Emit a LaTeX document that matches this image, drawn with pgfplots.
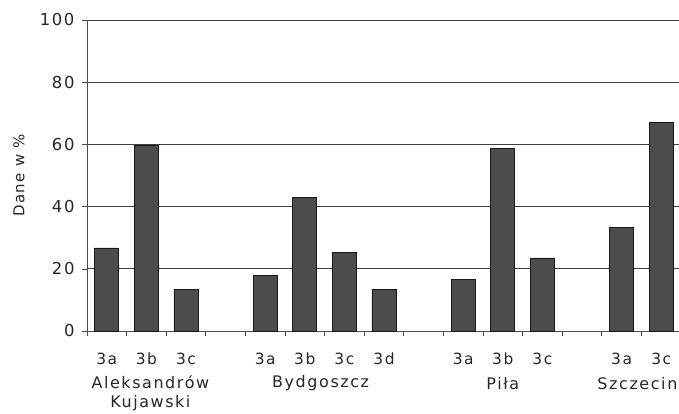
\documentclass[border=0pt]{standalone}
\usepackage{fontspec}
\setmainfont{DejaVu Sans}[LetterSpace=10]
\usepackage{pgfplots}
\pgfplotsset{compat=1.18}
\begin{document}
\begin{tikzpicture}
\useasboundingbox (-87bp,-83bp) rectangle (592bp,331bp);
\begin{axis}[
  at={(0,0)}, anchor=south west,
  scale only axis, width=592bp, height=311bp,
  xmin=-0.5, xmax=14.45, ymin=0, ymax=100,
  axis x line=bottom, axis y line=left,
  axis line style={black!70, -},
  ytick={0,20,...,100},
  ymajorgrids, grid style={black!75, line width=0.7pt},
  xtick={0,1,2,4,5,6,7,9,10,11,13,14},
  xticklabels={3a,3b,3c,3a,3b,3c,3d,3a,3b,3c,3a,3c},
  minor xtick={-0.5,0.5,...,14.5},
  major x tick style={draw=none},
  minor x tick style={black!70, line width=0.6pt},
  y tick style={black!70, line width=0.6pt},
  tick align=outside,
  major tick length=5bp, minor tick length=5bp,
  ticklabel style={font=\fontsize{15.5}{17}\selectfont, text=black!85},
  x tick label style={anchor=center, yshift=-23bp},
  y tick label style={xshift=-4bp, font=\fontsize{16.5}{18}\selectfont},
  /pgf/number format/assume math mode=true,
  clip=false,
]
\addplot[ybar, bar width=24bp, fill=black!70, draw=black!90, line width=0.7pt]
coordinates {(0,26.7) (1,59.7) (2,13.5) (4,18) (5,43) (6,25.4) (7,13.5)
             (9,16.7) (10,58.8) (11,23.5) (13,33.4) (14,67)};
\begin{scope}[every node/.style={font=\fontsize{16}{19}\selectfont, text=black!85, align=center, anchor=center}]
\node at (axis cs:1.1,0) [yshift=-62bp] {Aleksandrów\\Kujawski};
\node at (axis cs:5.4,0) [yshift=-52.5bp] {Bydgoszcz};
\node at (axis cs:10,0) [yshift=-52.5bp] {Piła};
\node at (axis cs:13.4,0) [yshift=-52.5bp] {Szczecin};
\node[rotate=90, font=\fontsize{15}{17}\selectfont] at ([xshift=-68bp]rel axis cs:0,0.5) {Dane w \%};
\end{scope}
\end{axis}
\end{tikzpicture}
\end{document}
